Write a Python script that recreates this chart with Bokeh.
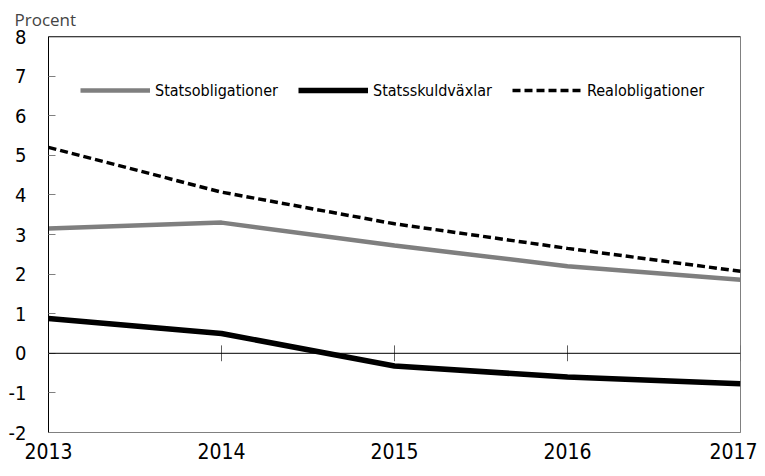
from bokeh.plotting import figure
from bokeh.models import FixedTicker, Range1d, Span, Title, Legend, LegendItem
from bokeh.embed import file_html
from bokeh.resources import INLINE

years = [2013, 2014, 2015, 2016, 2017]
statsobligationer = [3.15, 3.3, 2.72, 2.2, 1.86]
statsskuldvaxlar = [0.88, 0.5, -0.32, -0.6, -0.77]
realobligationer = [5.2, 4.07, 3.27, 2.65, 2.07]
y_ticks = [-2, -1, 0, 1, 2, 3, 4, 5, 6, 7, 8]
y_tick_labels = {t: str(t) for t in y_ticks}

COND = "'DejaVu Sans Condensed', sans-serif"

p = figure(width=757, height=468, output_backend="svg", toolbar_location=None,
           x_range=Range1d(2013, 2017), y_range=Range1d(-2, 8),
           min_border_left=48, min_border_right=17, min_border_top=36, min_border_bottom=36)
p.title.visible = False
p.add_layout(Title(text="Procent", align="left", offset=-34, text_font="Open Sans",
                   text_font_size="17px", text_font_style="normal", standoff=11), "above")

p.xgrid.visible = False
p.ygrid.visible = False
p.outline_line_color = "#808080"
p.outline_line_width = 1
p.background_fill_color = "white"
p.border_fill_color = "white"

# y axis
p.yaxis.ticker = FixedTicker(ticks=y_ticks)
p.yaxis.major_label_overrides = y_tick_labels
p.yaxis.major_tick_in = 7
p.yaxis.major_tick_out = 0
p.yaxis.minor_tick_line_color = None
p.yaxis.major_tick_line_color = "#808080"
p.yaxis.axis_line_color = "black"
p.yaxis.major_label_text_font = COND
p.yaxis.major_label_text_font_size = "20px"
p.yaxis.major_label_text_color = "black"
p.yaxis.major_label_standoff = 22

# x axis
p.xaxis.ticker = FixedTicker(ticks=years)
p.xaxis.major_tick_in = 0
p.xaxis.major_tick_out = 0
p.xaxis.minor_tick_line_color = None
p.xaxis.axis_line_color = "#808080"
p.xaxis.major_label_text_font = COND
p.xaxis.major_label_text_font_size = "21px"
p.xaxis.major_label_text_color = "black"
p.xaxis.major_label_standoff = 10

# top frame line
p.add_layout(Span(location=8, dimension="width", line_color="black", line_width=1.5))

# zero line with year ticks
p.add_layout(Span(location=0, dimension="width", line_color="black", line_width=1))
p.segment(x0=years, x1=years, y0=[-0.2] * len(years), y1=[0.2] * len(years),
          line_color="#606060", line_width=1)

r1 = p.line(years, statsobligationer, line_color="#7f7f7f", line_width=4.5)
r2 = p.line(years, statsskuldvaxlar, line_color="black", line_width=5.5)
r3 = p.line(years, realobligationer, line_color="black", line_width=3.5, line_dash="8 4")

legend = Legend(items=[LegendItem(label="Statsobligationer", renderers=[r1]),
                       LegendItem(label="Statsskuldväxlar", renderers=[r2]),
                       LegendItem(label="Realobligationer", renderers=[r3])],
                orientation="horizontal", location=(32, 332),
                glyph_width=70, glyph_height=20, label_standoff=5, spacing=20,
                padding=0, margin=0, border_line_color=None, background_fill_alpha=0,
                label_text_font=COND, label_text_font_size="16px", label_text_color="black")
p.add_layout(legend)

open("out.html", "w").write(file_html(p, INLINE))
